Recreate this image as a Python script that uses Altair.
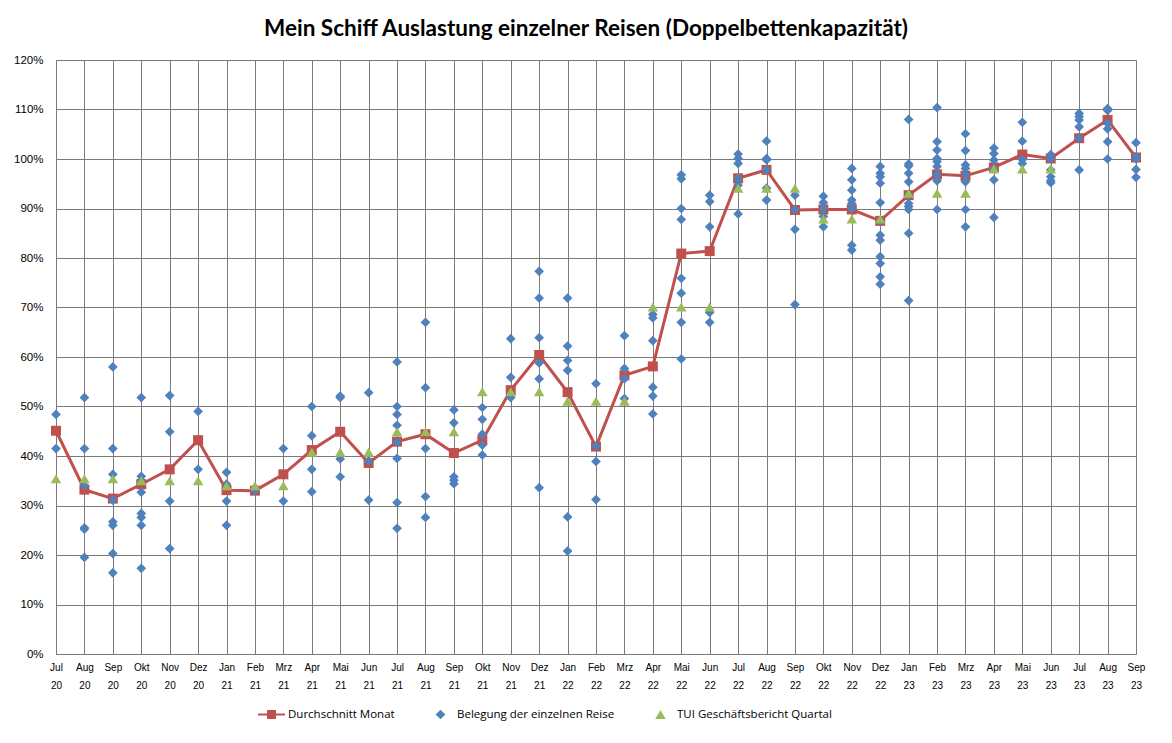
import altair as alt
import pandas as pd

# Monate Jul 20 .. Sep 23
months = [
    "Jul 20", "Aug 20", "Sep 20", "Okt 20", "Nov 20", "Dez 20",
    "Jan 21", "Feb 21", "Mrz 21", "Apr 21", "Mai 21", "Jun 21",
    "Jul 21", "Aug 21", "Sep 21", "Okt 21", "Nov 21", "Dez 21",
    "Jan 22", "Feb 22", "Mrz 22", "Apr 22", "Mai 22", "Jun 22",
    "Jul 22", "Aug 22", "Sep 22", "Okt 22", "Nov 22", "Dez 22",
    "Jan 23", "Feb 23", "Mrz 23", "Apr 23", "Mai 23", "Jun 23",
    "Jul 23", "Aug 23", "Sep 23",
]

# Durchschnitt Monat (in %)
avg = [
    45.1, 33.2, 31.4, 34.3, 37.3, 43.2,
    33.1, 33.0, 36.3, 41.2, 44.9, 38.6,
    42.9, 44.4, 40.6, 43.2, 53.3, 60.4,
    52.9, 41.9, 56.3, 58.1, 80.9, 81.4,
    96.1, 97.8, 89.7, 89.8, 89.8, 87.5,
    92.7, 96.9, 96.6, 98.3, 100.9, 100.1,
    104.2, 107.9, 100.3,
]

# TUI Geschaeftsbericht Quartal (in %), None = kein Wert
tui = [
    35.4, 35.4, 35.4, 35.0, 35.0, 35.0,
    34.0, 34.0, 34.0, 40.8, 40.8, 40.8,
    44.9, 44.9, 44.9, 53.0, 53.0, 53.0,
    51.1, 51.1, 51.1, 70.1, 70.1, 70.1,
    94.1, 94.1, 94.1, 87.9, 87.9, 87.9,
    93.1, 93.1, 93.1, 98.0, 98.0, 98.0,
    None, None, None,
]

# Belegung der einzelnen Reisen (in %), je Monat
trips = [
    [48.4, 41.5],
    [51.8, 41.5, 34.0, 25.5, 25.2, 19.5],
    [58.0, 41.5, 36.3, 31.1, 26.7, 26.0, 20.3, 16.4],
    [51.8, 35.9, 35.1, 32.7, 28.4, 27.6, 26.0, 17.3],
    [52.2, 44.9, 30.9, 21.3],
    [49.0, 37.3],
    [36.7, 34.3, 30.9, 26.0],
    [33.0],
    [41.5, 30.9],
    [50.0, 44.1, 37.3, 32.8],
    [52.1, 51.8, 39.4, 35.8],
    [52.8, 39.0, 31.1],
    [59.0, 50.0, 48.4, 46.2, 42.8, 39.5, 30.6, 25.4],
    [67.0, 53.8, 41.5, 31.8, 27.6],
    [49.3, 46.7, 35.8, 35.1, 34.4],
    [49.8, 47.4, 44.4, 42.2, 40.2],
    [63.7, 55.9, 51.8],
    [77.3, 71.9, 63.9, 58.8, 55.6, 33.6],
    [71.9, 62.2, 59.3, 57.3, 27.7, 20.8],
    [54.6, 42.0, 38.9, 31.2],
    [64.3, 57.7, 55.6, 51.6],
    [68.6, 67.9, 63.3, 53.9, 52.1, 48.5],
    [96.8, 96.0, 90.0, 87.8, 75.9, 72.9, 67.0, 59.6],
    [92.7, 91.4, 86.3, 69.0, 67.0],
    [101.0, 100.1, 99.1, 96.1, 94.7, 88.9],
    [103.6, 100.1, 99.8, 97.8, 94.1, 91.7],
    [92.7, 89.8, 85.8, 70.6],
    [92.5, 91.2, 90.0, 88.4, 86.3],
    [98.1, 95.8, 93.7, 91.7, 91.0, 90.0, 82.6, 81.6],
    [98.5, 97.1, 96.4, 95.1, 91.2, 87.5, 84.6, 83.6, 80.3, 78.9, 76.2, 74.7],
    [108.0, 99.0, 98.6, 97.1, 95.4, 92.7, 91.0, 90.4, 89.8, 85.0, 71.4],
    [110.4, 103.5, 101.8, 100.1, 99.5, 98.5, 96.8, 95.6, 89.8],
    [105.1, 101.7, 98.8, 98.1, 96.8, 95.4, 89.8, 86.3],
    [102.2, 101.1, 99.8, 98.1, 95.8, 88.2],
    [107.4, 103.6, 99.9, 99.1],
    [100.9, 100.0, 97.8, 96.4, 95.6, 95.2],
    [109.2, 108.6, 107.9, 106.5, 104.2, 97.8],
    [110.2, 109.8, 107.2, 106.1, 103.5, 100.0],
    [103.3, 100.5, 100.0, 97.9, 96.3],
]

series = ["Durchschnitt Monat", "Belegung der einzelnen Reise", "TUI Geschäftsbericht Quartal"]
colors = ["#C0504D", "#4F81BD", "#9BBB59"]
# symbol paths (unit box -1..1, drawn at size 729 -> 27px box)
shapes = [
    "M-1,-0.07H1V0.07H-1Z M-0.33,-0.33H0.33V0.33H-0.33Z",
    "M0,-0.36L0.36,0L0,0.36L-0.36,0Z",
    "M0,-0.33L0.39,0.34L-0.39,0.34Z",
]

df_avg = pd.DataFrame({"month": months, "value": [v / 100 for v in avg]})
df_trips = pd.DataFrame(
    [{"month": m, "value": v / 100, "series": series[1]} for m, vals in zip(months, trips) for v in vals]
)
df_tui = pd.DataFrame(
    [{"month": m, "value": v / 100, "series": series[2]} for m, v in zip(months, tui) if v is not None]
)

grid = "#7a7a7a"
x = alt.X(
    "month:N",
    sort=months,
    scale=alt.Scale(type="point", padding=0),
    axis=alt.Axis(
        title=None, grid=True, gridColor=grid, gridOpacity=1, ticks=False, labelAngle=0,
        labelOverlap=False, labelExpr="split(datum.label, ' ')", labelLineHeight=18,
        labelBaseline="top", labelPadding=8, labelFlush=False, domainColor=grid,
    ),
)
y = alt.Y(
    "value:Q",
    scale=alt.Scale(domain=[0, 1.2], nice=False),
    axis=alt.Axis(
        title=None, format=".0%", values=[i / 10 for i in range(13)], grid=True,
        gridColor=grid, gridOpacity=1, ticks=False, labelPadding=13, domainColor=grid,
        labelFontSize=11.5,
    ),
)

leg = alt.Legend(
    title=None, orient="none", direction="horizontal", legendX=202, legendY=641,
    symbolSize=729, symbolStrokeWidth=0, columnPadding=32, labelOffset=3,
    labelFont="Open Sans", labelFontSize=11.5, labelColor="#000", labelLimit=400, padding=0,
)
color = alt.Color("series:N", scale=alt.Scale(domain=series, range=colors), legend=leg)
shape = alt.Shape("series:N", scale=alt.Scale(domain=series, range=shapes), legend=leg)

line = alt.Chart(df_avg).mark_line(color=colors[0], strokeWidth=3).encode(x=x, y=y)
squares = alt.Chart(df_avg).mark_point(
    shape="square", filled=True, size=100, color=colors[0], opacity=1
).encode(x=x, y=y)
diamonds = alt.Chart(df_trips).mark_point(filled=True, size=729, opacity=1, strokeWidth=0).encode(
    x=x, y=y, color=color, shape=shape
)
triangles = alt.Chart(df_tui).mark_point(filled=True, size=729, opacity=1, strokeWidth=0).encode(
    x=x, y=y, color=color, shape=shape
)

chart = (
    (line + squares + diamonds + triangles)
    .properties(
        width=1080,
        height=594,
        autosize=alt.AutoSizeParams(type="none"),
        padding={"left": 48, "top": 52, "right": 28, "bottom": 81},
        title=alt.Title(
            "Mein Schiff Auslastung einzelner Reisen (Doppelbettenkapazität)",
            font="Lato", fontSize=22.5, fontWeight="bold", color="#000",
            anchor="middle", offset=14, dx=-10,
        ),
    )
    .configure_view(stroke=grid, strokeWidth=1)
    .configure_axis(
        gridColor=grid, gridWidth=1, gridOpacity=1, domainColor=grid, domainWidth=1,
        labelFont="Open Sans", labelFontSize=11, labelColor="#000",
    )
    .configure(background="white")
)

chart.save("out.html", embed_options={"renderer": "svg", "actions": False})
